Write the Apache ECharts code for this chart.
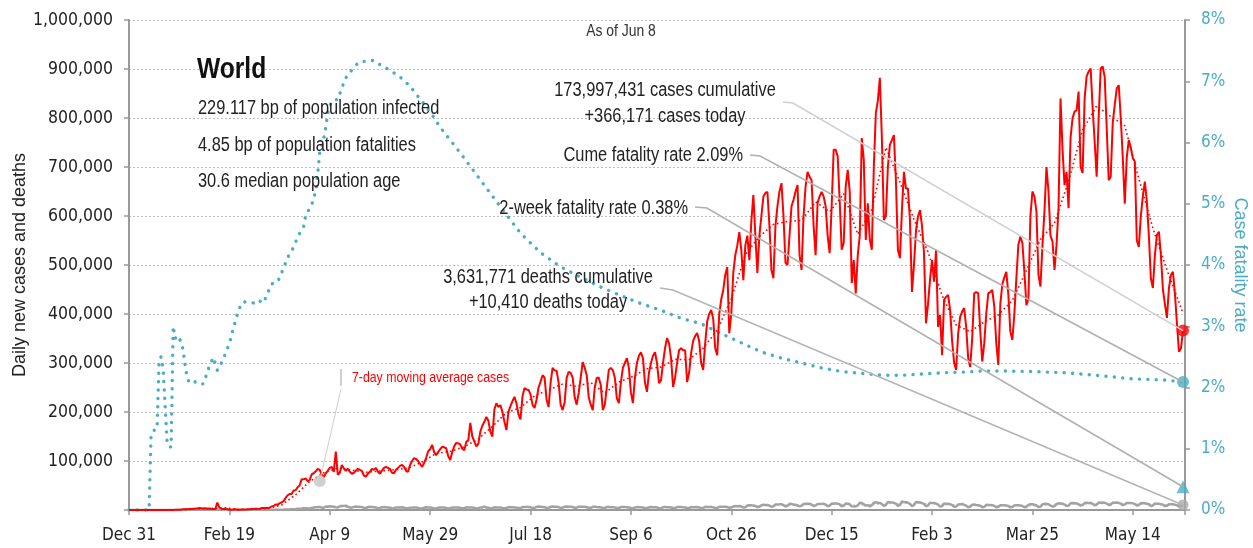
<!DOCTYPE html>
<html>
<head>
<meta charset="utf-8">
<script src="https://cdn.jsdelivr.net/npm/echarts@6/dist/echarts.min.js"></script>
<style>html,body{margin:0;padding:0;background:#fff}#main{width:1253px;height:548px}</style>
</head>
<body>
<div id="main"></div>
<script>
// ---- DATA (day 0 = Dec 31, 2019; values in thousands) ----
const xTickLabels = ['Dec 31','Feb 19','Apr 9','May 29','Jul 18','Sep 6','Oct 26','Dec 15','Feb 3','Mar 25','May 14'];
const rateTickLabels = ['0%','1%','2%','3%','4%','5%','6%','7%','8%'];

// daily new cases (thousands), rows = weeks Tue..Mon
const casesDaily = [
0.027,0,0,0,0.017,0,0.015,
0,0,0,0,0.004,0,0,
0,0,0.001,0.017,0.136,0.019,0.151,
0.14,0.097,0.259,0.441,0.665,0.787,1.753,
1.466,1.74,1.98,2.102,2.59,2.829,3.235,
3.887,3.694,3.143,3.385,2.652,2.973,2.467,
2.015,2.0,15.15,5.09,2.64,2.01,1.89,
1.83,0.4,0.6,1.0,1.4,0.6,0.5,
0.9,0.9,1.2,1.4,1.7,1.9,2.0,
2.5,2.3,2.7,3.9,4.0,3.9,4.1,
4.6,7.2,8.0,11.2,10.9,13.5,15.6,
18.1,24.6,30.1,32.6,32.8,39.8,40.2,
46.5,49.9,62.9,62.5,64.7,59.0,61.0,
73,75,79,84,82,72,67,
75,80,86,88,78,119,72,
76,92,85,80,84,78,74,
76,80,84,82,80,70,68,
74,78,84,82,86,78,74,
80,86,88,86,84,76,75,
82,86,90,92,88,80,78,
92,100,106,104,100,94,88,
96,106,120,124,133,118,112,
118,124,129,128,126,110,102,
118,130,137,136,134,125,122,
139,142,178,150,140,130,135,
160,172,180,190,182,160,150,
205,218,210,214,200,180,163,
200,212,222,231,218,195,185,
232,249,246,245,236,215,208,
225,250,262,275,270,225,210,
260,290,285,284,260,215,204,
220,270,282,280,270,230,215,
239,270,302,290,275,230,215,
204,250,270,270,255,204,215,
250,286,290,285,270,228,218,
260,290,300,310,290,240,218,
270,300,315,322,310,260,241,
280,300,315,322,300,259,265,
300,330,351,340,310,251,270,
300,326,330,326,326,261,280,
320,345,355,361,345,300,286,
340,385,400,408,390,330,316,
400,430,449,480,496,361,400,
484,520,540,567,530,469,540,
560,510,590,643,560,484,560,
600,640,647,649,580,490,473,
580,620,650,667,600,505,500,
560,620,633,650,663,520,490,
600,660,690,680,673,580,520,
627,640,649,640,620,560,524,
620,735,735,722,630,531,545,
660,694,650,463,510,442,520,
560,759,714,551,626,551,531,
700,810,835,882,760,592,600,
700,745,755,765,673,531,514,
612,690,656,656,592,445,500,
570,599,612,580,524,381,420,
470,510,466,531,374,398,316,
429,435,439,408,345,300,286,
360,394,405,412,374,310,292,
350,442,445,442,367,303,340,
400,442,445,449,415,340,296,
420,460,475,486,440,364,347,
400,473,541,558,545,486,418,
430,600,650,640,609,480,456,
540,610,700,650,560,548,490,
540,616,840,735,663,690,616,
760,800,813,816,854,700,688,
840,885,895,901,820,752,680,
800,901,905,884,780,673,680,
790,827,860,867,800,720,625,
720,755,740,718,711,550,537,
600,640,670,630,560,473,453,
520,561,568,520,450,420,392,
453,480,486,440,380,323,330,
366.171
];

// 7-day moving average of cases [day, thousands]
const casesMA7 = [
[6,0.01],[13,0.001],[20,0.046],[27,0.59],[34,2.28],[41,3.17],[48,4.4],[55,0.9],[62,1.43],[69,3.3],
[76,10.1],[83,31.2],[90,58.1],[97,76.0],[104,85.4],[111,81.3],[118,77.1],[125,79.4],[132,82.1],[139,85.1],
[146,97.7],[153,115.6],[160,119.6],[167,128.9],[174,144.9],[181,170.6],[188,198.6],[195,209],[202,233],[209,245.3],
[216,256.9],[223,252.4],[230,260.1],[237,238.3],[244,261],[251,272.6],[258,288.3],[265,291.6],[272,307.4],[279,307],
[286,330.3],[293,367],[300,430.9],[307,521.4],[314,558.1],[321,582.7],[328,588.9],[335,590.9],[342,629],[349,608.6],
[356,645.4],[363,562.7],[370,613.1],[377,739.9],[384,669],[391,593],[398,526.6],[405,437.9],[412,377.4],[419,363.9],
[426,384.1],[433,398.1],[440,427.4],[447,488.7],[454,552.1],[461,585.4],[468,671.4],[475,775.9],[482,824.7],[489,803.3],
[496,784.1],[503,675.9],[510,575.1],[517,490.1],[524,413.1],[525,400.7]
];

// daily deaths (thousands), rows = weeks Tue..Mon
const deathsDaily = [
0,0,0,0,0,0,0,
0,0,0,0,0.001,0,0,
0,0,0,0,0.001,0.001,0.003,
0.009,0.008,0.016,0.015,0.015,0.024,0.026,
0.026,0.038,0.043,0.046,0.045,0.057,0.064,
0.066,0.073,0.073,0.086,0.089,0.097,0.108,
0.097,0.254,0.121,0.143,0.142,0.105,0.098,
0.136,0.115,0.118,0.109,0.097,0.150,0.071,
0.052,0.029,0.044,0.047,0.057,0.064,0.066,
0.073,0.085,0.097,0.107,0.104,0.229,0.204,
0.302,0.325,0.358,0.418,0.463,0.433,0.596,
0.712,0.895,1.04,1.35,1.67,1.70,1.87,
2.4,2.6,2.9,3.4,3.6,3.1,3.1,
4.2,4.9,5.6,5.9,6.3,4.8,4.6,
7.2,6.8,7.5,7.3,6.5,5.7,5.2,
7.5,8.4,8.0,8.8,6.5,5.2,4.8,
6.4,7.0,6.6,6.0,5.9,4.2,3.9,
5.9,6.5,6.3,5.6,4.9,3.6,3.7,
5.7,6.0,5.8,5.2,4.5,3.6,3.2,
5.2,5.3,5.2,5.4,4.8,3.4,3.4,
4.8,4.9,5.3,5.0,4.2,3.1,2.9,
4.6,5.5,5.0,4.9,4.4,3.1,3.3,
4.8,5.2,5.3,4.9,4.1,3.3,3.4,
5.1,5.0,5.3,5.0,4.4,3.4,3.6,
5.4,5.2,5.3,5.0,4.3,3.3,3.4,
5.2,5.3,6.9,5.0,4.6,3.5,3.6,
5.5,5.3,5.0,5.2,4.3,3.6,3.9,
5.9,5.6,5.5,5.3,4.9,3.9,3.9,
5.9,6.2,6.0,6.1,5.4,4.0,4.1,
6.3,7.0,6.6,6.2,5.6,4.2,4.3,
6.8,6.9,6.5,6.6,6.0,4.3,4.6,
6.8,7.0,6.7,6.5,5.9,4.5,4.6,
6.7,6.5,6.5,6.6,5.7,4.2,4.1,
6.5,6.5,6.0,5.8,5.4,4.1,4.0,
6.2,6.2,5.8,5.6,5.3,4.0,3.9,
6.0,6.1,5.9,5.6,5.2,4.0,3.5,
4.9,6.0,5.8,5.6,5.2,3.9,3.6,
5.6,6.0,5.8,5.6,5.1,3.7,3.7,
5.5,6.4,5.8,5.7,5.2,4.0,4.0,
6.0,6.1,6.0,5.6,5.3,3.9,3.9,
5.9,5.8,5.8,6.2,5.2,3.8,4.0,
6.4,6.3,6.1,6.4,5.3,4.2,4.3,
6.5,6.8,6.7,6.8,6.0,4.5,5.0,
7.4,8.0,7.8,8.0,7.0,5.2,5.7,
9.2,9.8,9.5,9.3,8.3,6.0,6.8,
9.5,10.9,10.4,10.3,9.0,6.6,7.8,
11.2,11.4,11.6,11.9,10.0,7.2,8.6,
12.1,12.6,10.8,10.7,9.3,7.5,8.5,
12.3,12.8,12.6,12.8,11.1,7.9,8.9,
12.5,12.4,12.5,12.7,11.1,7.8,8.8,
12.9,13.4,13.4,12.9,11.4,7.4,9.0,
13.2,12.9,11.6,7.6,7.4,7.3,9.3,
14.6,14.1,11.5,8.9,9.9,7.5,9.8,
15.0,15.8,14.9,14.5,12.2,8.5,10.2,
16.5,15.3,15.3,14.6,13.1,8.6,9.9,
17.4,16.1,16.0,14.7,12.3,8.0,10.0,
16.6,16.0,15.4,14.3,12.1,7.9,9.2,
15.1,14.1,14.2,13.1,11.1,7.1,7.9,
13.1,12.4,12.8,11.8,10.1,6.6,6.9,
11.2,11.5,12.5,10.5,8.9,5.7,6.6,
10.9,11.2,10.2,9.8,8.6,5.8,6.5,
10.6,10.3,10.2,9.9,8.5,5.6,6.2,
9.6,9.9,9.5,9.0,8.2,5.4,6.0,
9.3,9.7,9.9,9.4,8.2,5.8,6.3,
10.4,11.6,11.8,10.7,9.3,6.0,6.8,
11.4,12.6,12.3,11.8,9.2,6.9,7.6,
12.5,13.6,13.4,12.9,11.1,8.2,8.9,
13.6,14.2,13.9,13.3,11.8,8.9,10.0,
14.1,14.7,14.3,14.5,12.5,9.4,11.2,
15.2,15.0,15.4,14.6,13.1,10.1,10.9,
15.1,14.9,15.3,14.2,13.0,9.8,11.4,
14.5,14.2,14.3,13.5,12.4,9.1,10.2,
14.0,14.3,13.9,12.9,11.7,8.3,9.3,
13.2,12.7,12.6,11.9,10.7,7.9,8.6,
11.8,11.6,11.6,10.9,9.5,7.5,8.3,
10.41
];

// 7-day moving average of deaths [day, thousands]
const deathsMA7 = [
[6,0],[13,0],[20,0.001],[27,0.016],[34,0.046],[41,0.085],[48,0.137],[55,0.114],[62,0.051],[69,0.128],
[76,0.414],[83,1.32],[90,3.01],[97,5.19],[104,6.6],[111,7.0],[118,5.71],[125,5.21],[132,4.86],[139,4.67],
[146,4.17],[153,4.4],[160,4.43],[167,4.54],[174,4.56],[181,4.81],[188,4.69],[195,5.0],[202,5.39],[209,5.74],
[216,5.96],[223,6.0],[230,5.76],[237,5.47],[244,5.29],[251,5.19],[258,4.99],[265,5.07],[272,5.23],[279,5.26],
[286,5.24],[293,5.57],[300,6.19],[307,7.01],[314,8.41],[321,9.21],[328,10.27],[335,10.21],[342,11.2],[349,11.11],
[356,11.49],[363,9.9],[370,10.9],[377,13.0],[384,13.33],[391,13.5],[398,13.07],[405,11.8],[412,10.53],[419,9.56],
[426,9.0],[433,8.76],[440,8.23],[447,8.37],[454,9.51],[461,10.26],[468,11.51],[475,12.24],[482,12.96],[489,13.47],
[496,13.39],[503,12.6],[510,12.06],[517,11.09],[524,10.17],[525,10.0]
];

// cumulative case fatality rate [day, percent]
const fatalityRate = [
[0,0],[10,0],[11,1.23],[13,1.32],[14,1.33],[15,2.46],[16,2.5],[17,2.3],[18,1.7],[19,1.1],[20,1.03],[21,1.03],
[22,3.0],[23,2.8],[24,2.85],[25,2.8],[26,2.75],[27,2.6],[28,2.35],[29,2.15],[30,2.09],[32,2.12],[34,2.06],[37,2.06],
[38,2.15],[40,2.35],[42,2.49],[44,2.28],[46,2.4],[48,2.55],[50,2.72],[52,2.97],[54,3.2],[56,3.38],[58,3.4],[62,3.38],
[64,3.43],[67,3.38],[68,3.46],[71,3.69],[74,3.72],[77,3.95],[79,4.12],[82,4.29],[84,4.46],[87,4.63],[88,4.81],[91,4.98],
[93,5.21],[94,5.49],[95,5.84],[97,6.07],[98,6.24],[99,6.47],[100,6.61],[102,6.7],[104,6.7],[107,6.98],[109,7.12],[112,7.21],
[114,7.3],[118,7.33],[122,7.34],[125,7.27],[130,7.18],[135,7.07],[140,6.92],[144,6.75],[150,6.5],[155,6.25],[165,5.83],
[175,5.39],[185,4.95],[195,4.52],[205,4.2],[215,3.97],[225,3.8],[235,3.64],[245,3.5],[255,3.37],[265,3.26],[275,3.13],
[285,3.04],[295,2.88],[305,2.73],[315,2.58],[325,2.48],[335,2.4],[345,2.32],[355,2.26],[365,2.23],[375,2.2],[385,2.2],
[395,2.22],[405,2.24],[415,2.25],[425,2.27],[435,2.27],[450,2.26],[467,2.24],[485,2.19],[500,2.14],[510,2.13],[517,2.12],
[522,2.1],[525,2.09]
];

const latestDay = 525;
const latestCases = 366.171;
const latestDeaths = 10.41;
const cumeFatality = 2.09;
const twoWeekFatality = 0.38;
const maLabelPoint = [95, 59];

// ---- STYLE ----
const COND = '"DejaVu Sans Condensed","Liberation Sans Narrow",sans-serif';
const REG = '"Liberation Sans",Arial,sans-serif';
const NARROW_SCALE = 0.82;
const TEAL = '#4bacc6';
const RED = '#ff0000';
const GRAY = '#a2a2a2';

const chart = echarts.init(document.getElementById('main'));
const option = {
  animation: false,
  backgroundColor: '#fff',
  grid: { left: 129, right: 68, top: 20, bottom: 38, containLabel: false, outerBoundsMode: 'none' },
  xAxis: {
    type: 'value', min: 0, max: 526, interval: 50,
    axisLine: { show: true, lineStyle: { color: '#999', width: 2 } },
    axisTick: { show: true, length: 5, lineStyle: { color: '#999', width: 1.5 } },
    axisLabel: {
      color: '#222', fontFamily: COND, fontSize: 17, margin: 17,
      formatter: v => (v % 50 === 0 ? (xTickLabels[v / 50] || '') : '')
    },
    splitLine: { show: false }
  },
  yAxis: [
    {
      type: 'value', min: 0, max: 1000, interval: 100, position: 'left',
      name: 'Daily new cases and deaths', nameLocation: 'middle', nameGap: 100, nameMoveOverlap: false,
      nameTextStyle: { fontFamily: REG, fontSize: 18, color: '#222' },
      axisLine: { show: true, lineStyle: { color: '#999', width: 2 } },
      axisTick: { show: true, length: 5, lineStyle: { color: '#999', width: 1.5 } },
      axisLabel: {
        color: '#222', fontFamily: COND, fontSize: 17.5, margin: 16,
        formatter: v => (v === 0 ? '' : (v * 1000).toLocaleString('en-US'))
      },
      splitLine: { show: true, lineStyle: { color: '#bdbdbd', type: [2, 2], width: 1 } }
    },
    {
      type: 'value', min: 0, max: 8, interval: 1, position: 'right',
      name: 'Case fatality rate', nameLocation: 'middle', nameGap: 46, nameRotate: -90, nameMoveOverlap: false,
      nameTextStyle: { fontFamily: REG, fontSize: 18, color: TEAL },
      axisLine: { show: true, lineStyle: { color: '#999', width: 2 } },
      axisTick: { show: true, length: 5, lineStyle: { color: '#999', width: 1.5 } },
      axisLabel: {
        color: TEAL, fontFamily: COND, fontSize: 17, margin: 16,
        formatter: v => rateTickLabels[v] || ''
      },
      splitLine: { show: false }
    }
  ],
  series: [
    {
      name: 'Deaths 7-day avg', type: 'line', data: deathsMA7, yAxisIndex: 0,
      showSymbol: false, silent: true, z: 2,
      lineStyle: { color: '#cccccc', width: 1.2, type: [2, 2] }
    },
    {
      name: 'Daily deaths', type: 'line', data: deathsDaily.map((v, i) => [i, v]), yAxisIndex: 0,
      showSymbol: false, silent: true, z: 2,
      lineStyle: { color: GRAY, width: 2.5 }
    },
    {
      name: 'Case fatality rate', type: 'line', data: fatalityRate, yAxisIndex: 1,
      showSymbol: false, silent: true, z: 3,
      lineStyle: { color: TEAL, width: 3.4, type: [0.1, 8.3], cap: 'round' }
    },
    {
      name: 'Cases 7-day avg', type: 'line', data: casesMA7, yAxisIndex: 0,
      showSymbol: false, silent: true, z: 4,
      lineStyle: { color: RED, width: 1.6, type: [1.6, 2.8] }
    },
    {
      name: 'Daily cases', type: 'line', data: casesDaily.map((v, i) => [i, v]), yAxisIndex: 0,
      showSymbol: false, silent: true, z: 5,
      lineStyle: { color: RED, width: 2 }
    },
    {
      name: 'MA label anchor', type: 'scatter', yAxisIndex: 0, z: 6, silent: true,
      data: [maLabelPoint], symbol: 'circle', symbolSize: 12,
      itemStyle: { color: '#c4c4c4' }
    },
    {
      name: 'Latest cases', type: 'scatter', yAxisIndex: 0, z: 8, silent: true,
      data: [[latestDay, latestCases]], symbol: 'circle', symbolSize: 12,
      itemStyle: { color: RED }
    },
    {
      name: 'Latest deaths', type: 'scatter', yAxisIndex: 0, z: 8, silent: true,
      data: [[latestDay, latestDeaths]], symbol: 'circle', symbolSize: 11,
      itemStyle: { color: '#aaaaaa' }
    },
    {
      name: 'Cume fatality', type: 'scatter', yAxisIndex: 1, z: 8, silent: true,
      data: [[latestDay, cumeFatality]], symbol: 'circle', symbolSize: 12,
      itemStyle: { color: TEAL }
    },
    {
      name: '2-week fatality', type: 'scatter', yAxisIndex: 1, z: 8, silent: true,
      data: [[latestDay, twoWeekFatality]], symbol: 'triangle', symbolSize: 13,
      itemStyle: { color: TEAL }
    }
  ]
};
chart.setOption(option);

// ---- annotations ----
const px = (pt, yi) => chart.convertToPixel({ xAxisIndex: 0, yAxisIndex: yi }, pt);
const casesEnd = px([latestDay, latestCases], 0);
const deathsEnd = px([latestDay, latestDeaths], 0);
const cumeEnd = px([latestDay, cumeFatality], 1);
const twoWkEnd = px([latestDay, twoWeekFatality], 1);
const maAnchor = px(maLabelPoint, 0);

const txt = (text, x, y, opt) => ({
  type: 'text', x: x, y: y, z: 100, silent: true, scaleX: NARROW_SCALE,
  style: Object.assign({
    text: text, fontFamily: REG, fontSize: 20, fill: '#222',
    textAlign: 'left', textVerticalAlign: 'middle'
  }, opt || {})
});
const leader = (points, color, width) => ({
  type: 'polyline', z: 90, silent: true,
  shape: { points: points },
  style: { stroke: color, lineWidth: width, fill: null }
});

chart.setOption({
  graphic: [
    leader([[783, 102], [793, 103], casesEnd], '#d0d0d0', 1.6),
    leader([[750, 155], [760, 156], cumeEnd], '#b0b0b0', 1.6),
    leader([[695, 207], [707, 208], twoWkEnd], '#b0b0b0', 1.6),
    leader([[660, 288], [673, 290], deathsEnd], '#b4b4b4', 1.6),
    leader([[341, 369], [341, 386]], '#cfcfcf', 2),
    leader([[341, 389], maAnchor], '#cfcfcf', 1),
    txt('As of Jun 8', 621, 31, { fontSize: 17, textAlign: 'center', fill: '#333' }),
    txt('World', 197, 70, { fontSize: 30, fontWeight: 'bold', fill: '#111' }),
    txt('229.117 bp of population infected', 198, 108),
    txt('4.85 bp of population fatalities', 198, 145),
    txt('30.6 median population age', 198, 181),
    txt('173,997,431 cases cumulative', 665, 90, { textAlign: 'center' }),
    txt('+366,171 cases today', 665, 116, { textAlign: 'center' }),
    txt('Cume fatality rate 2.09%', 743, 155, { textAlign: 'right' }),
    txt('2-week fatality rate 0.38%', 688, 208, { textAlign: 'right' }),
    txt('3,631,771 deaths cumulative', 548, 277, { textAlign: 'center' }),
    txt('+10,410 deaths today', 548, 302, { textAlign: 'center' }),
    txt('7-day moving average cases', 352, 378, { fontSize: 15, fill: RED })
  ]
});
</script>
</body>
</html>
